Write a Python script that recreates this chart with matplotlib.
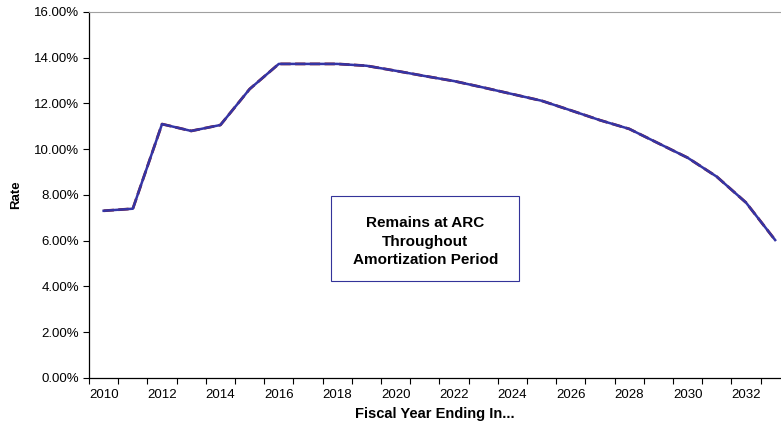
import matplotlib
matplotlib.use('Agg')
import matplotlib.pyplot as plt
from matplotlib.patches import Rectangle
from matplotlib.ticker import FixedLocator, PercentFormatter

plt.rcParams['font.family'] = ['Liberation Sans', 'DejaVu Sans']

# fiscal years and rate (%)
years = list(range(2010, 2034))
rate_arc = [7.31, 7.40, 11.10, 10.80, 11.06, 12.63, 13.73, 13.73, 13.73, 13.65,
            13.43, 13.20, 12.98, 12.70, 12.41, 12.12, 11.70, 11.27, 10.89, 10.26,
            9.63, 8.80, 7.67, 6.03]
rate_alt = rate_arc
year_labels = [str(y) for y in range(2010, 2033, 2)]
box_text = 'Remains at ARC\nThroughout\nAmortization Period'

fig = plt.figure(figsize=(7.81, 4.25), dpi=100)
ax = fig.add_axes([0.114, 0.1106, 0.886, 0.8612])

ax.plot(years, rate_alt, color='#8b1a1a', lw=2.0, ls='--', zorder=2)
ax.plot(years, rate_arc, color='#3535a5', lw=1.8, zorder=3)

ax.set_xlim(2009.5, 2033.2)
ax.set_ylim(0, 16)
ax.set_yticks([0, 2, 4, 6, 8, 10, 12, 14, 16])
ax.yaxis.set_major_formatter(PercentFormatter(decimals=2))

# ticks on category boundaries, labels every second year
ax.xaxis.set_major_locator(FixedLocator([y - 0.5 for y in years]))
ax.xaxis.set_major_formatter(plt.NullFormatter())
ax.xaxis.set_minor_locator(FixedLocator(range(2010, 2033, 2)))
ax.set_xticklabels(year_labels, minor=True)
ax.tick_params(axis='x', which='major', direction='out', length=4, width=0.8)
ax.tick_params(axis='x', which='minor', length=0, pad=8, labelsize=9.5)
ax.tick_params(axis='y', direction='out', length=4, width=0.8, labelsize=9.5, pad=3)

ax.spines['right'].set_visible(False)
ax.spines['top'].set_color('#a0a0a0')
ax.spines['left'].set_linewidth(0.9)
ax.spines['bottom'].set_linewidth(0.9)

ax.set_xlabel('Fiscal Year Ending In...', fontsize=10.5, fontweight='bold')
ax.set_ylabel('Rate', fontsize=9.5, fontweight='bold')
ax.xaxis.set_label_coords(0.50, -0.078)
ax.yaxis.set_label_coords(-0.097, 0.50)

ax.add_patch(Rectangle((0.350, 0.265), 0.272, 0.232, transform=ax.transAxes,
                       facecolor='white', edgecolor='#333399', lw=0.8, zorder=4))
ax.text(0.486, 0.372, box_text, transform=ax.transAxes, ha='center', va='center',
        fontsize=11, fontweight='bold', linespacing=1.4, zorder=5)

fig.savefig('out.png', dpi=100)
